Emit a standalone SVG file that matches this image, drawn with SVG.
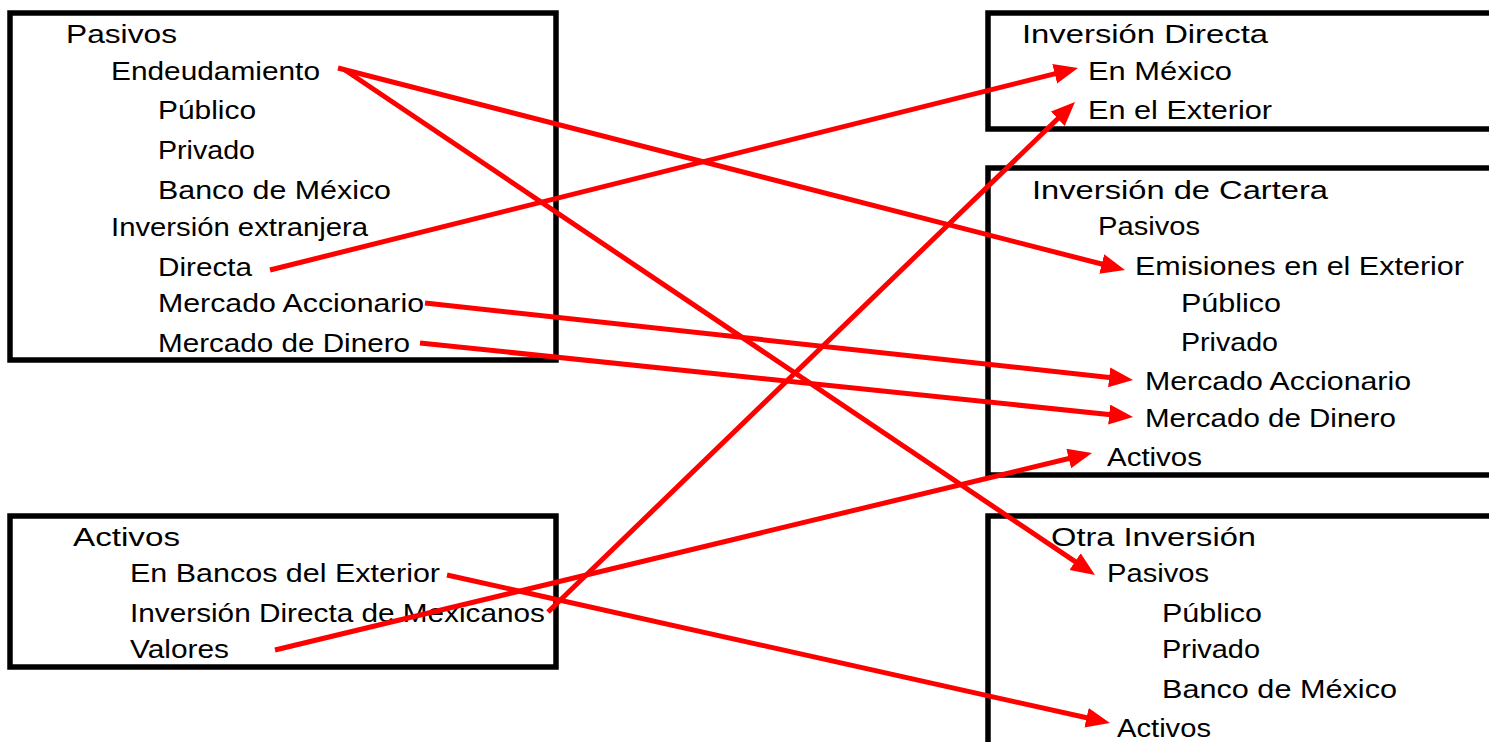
<svg xmlns="http://www.w3.org/2000/svg" width="1489" height="742" viewBox="0 0 1489 742">
<style>
.box{fill:none;stroke:#000;stroke-width:5.5}
text{font-family:"Liberation Sans",Arial,sans-serif;font-size:25px;fill:#000}
.c line{stroke:#ff0000;stroke-width:5}
</style>
<defs>
<marker id="ah" markerUnits="userSpaceOnUse" markerWidth="26" markerHeight="22" refX="14" refY="10" orient="auto">
<path d="M0,0 L24,10 L0,20 z" fill="#ff0000"/>
</marker>
</defs>
<rect width="1489" height="742" fill="#fff"/>
<g id="pasivos">
<rect class="box" x="10" y="13" width="546" height="347"/>
<text x="66" y="43" textLength="111" lengthAdjust="spacingAndGlyphs">Pasivos</text>
<text x="111" y="80" textLength="209" lengthAdjust="spacingAndGlyphs">Endeudamiento</text>
<text x="158" y="119" textLength="98" lengthAdjust="spacingAndGlyphs">Público</text>
<text x="158" y="159" textLength="97" lengthAdjust="spacingAndGlyphs">Privado</text>
<text x="158" y="199" textLength="233" lengthAdjust="spacingAndGlyphs">Banco de México</text>
<text x="111" y="236" textLength="257" lengthAdjust="spacingAndGlyphs">Inversión extranjera</text>
<text x="158" y="276" textLength="94" lengthAdjust="spacingAndGlyphs">Directa</text>
<text x="158" y="312" textLength="266" lengthAdjust="spacingAndGlyphs">Mercado Accionario</text>
<text x="158" y="352" textLength="252" lengthAdjust="spacingAndGlyphs">Mercado de Dinero</text>
</g>
<g id="activos">
<rect class="box" x="10" y="516" width="546" height="151"/>
<text x="73" y="546" textLength="107" lengthAdjust="spacingAndGlyphs">Activos</text>
<text x="130" y="582" textLength="310" lengthAdjust="spacingAndGlyphs">En Bancos del Exterior</text>
<text x="130" y="622" textLength="415" lengthAdjust="spacingAndGlyphs">Inversión Directa de Mexicanos</text>
<text x="130" y="658" textLength="99" lengthAdjust="spacingAndGlyphs">Valores</text>
</g>
<g id="inversion-directa">
<rect class="box" x="988" y="13" width="600" height="116"/>
<text x="1022" y="43" textLength="246" lengthAdjust="spacingAndGlyphs">Inversión Directa</text>
<text x="1088" y="80" textLength="144" lengthAdjust="spacingAndGlyphs">En México</text>
<text x="1088" y="119" textLength="184" lengthAdjust="spacingAndGlyphs">En el Exterior</text>
</g>
<g id="inversion-cartera">
<rect class="box" x="988" y="168" width="600" height="307"/>
<text x="1032" y="199" textLength="296" lengthAdjust="spacingAndGlyphs">Inversión de Cartera</text>
<text x="1098" y="235" textLength="102" lengthAdjust="spacingAndGlyphs">Pasivos</text>
<text x="1135" y="275" textLength="329" lengthAdjust="spacingAndGlyphs">Emisiones en el Exterior</text>
<text x="1181" y="312" textLength="100" lengthAdjust="spacingAndGlyphs">Público</text>
<text x="1181" y="351" textLength="97" lengthAdjust="spacingAndGlyphs">Privado</text>
<text x="1145" y="390" textLength="266" lengthAdjust="spacingAndGlyphs">Mercado Accionario</text>
<text x="1145" y="427" textLength="251" lengthAdjust="spacingAndGlyphs">Mercado de Dinero</text>
<text x="1107" y="466" textLength="95" lengthAdjust="spacingAndGlyphs">Activos</text>
</g>
<g id="otra-inversion">
<rect class="box" x="988" y="516" width="600" height="300"/>
<text x="1051" y="546" textLength="205" lengthAdjust="spacingAndGlyphs">Otra Inversión</text>
<text x="1107" y="582" textLength="102" lengthAdjust="spacingAndGlyphs">Pasivos</text>
<text x="1162" y="622" textLength="100" lengthAdjust="spacingAndGlyphs">Público</text>
<text x="1162" y="658" textLength="98" lengthAdjust="spacingAndGlyphs">Privado</text>
<text x="1162" y="698" textLength="235" lengthAdjust="spacingAndGlyphs">Banco de México</text>
<text x="1117" y="737" textLength="94" lengthAdjust="spacingAndGlyphs">Activos</text>
</g>
<g id="connectors" class="c">
<line x1="338" y1="68" x2="1115.3" y2="267.5" marker-end="url(#ah)"/>
<line x1="345" y1="70" x2="1086.7" y2="569.4" marker-end="url(#ah)"/>
<line x1="270" y1="270" x2="1068.3" y2="70.4" marker-end="url(#ah)"/>
<line x1="425" y1="303" x2="1123.1" y2="378.9" marker-end="url(#ah)"/>
<line x1="420" y1="343" x2="1123.1" y2="416" marker-end="url(#ah)"/>
<line x1="447" y1="575" x2="1100.2" y2="720.8" marker-end="url(#ah)"/>
<line x1="548" y1="612" x2="1067.8" y2="109" marker-end="url(#ah)"/>
<line x1="275" y1="650" x2="1082.3" y2="455.3" marker-end="url(#ah)"/>
</g>
</svg>
